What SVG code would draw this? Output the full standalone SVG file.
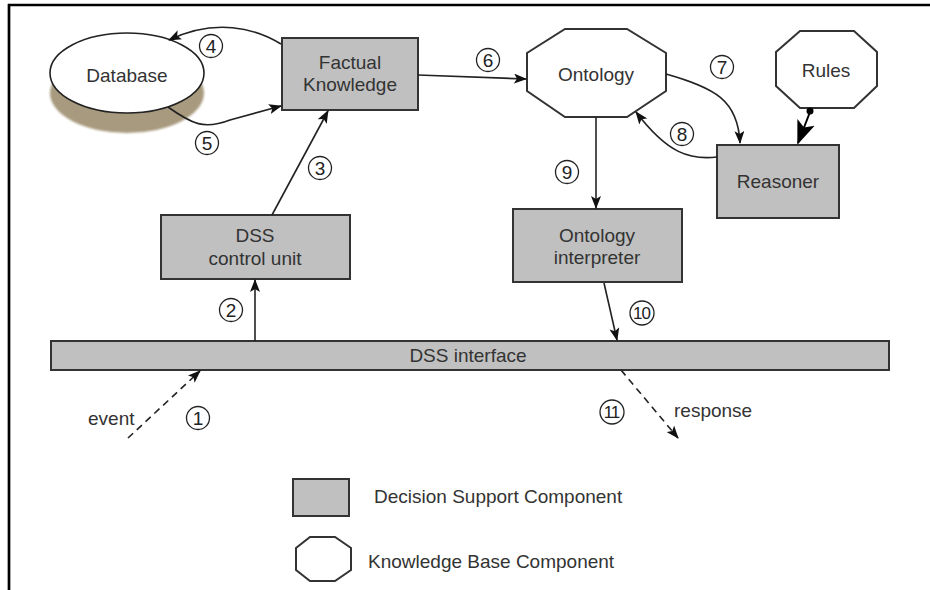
<svg xmlns="http://www.w3.org/2000/svg" width="930" height="590" viewBox="0 0 930 590">
  <defs>
    <marker id="arrow" viewBox="0 0 13 10" refX="12" refY="5" markerWidth="13" markerHeight="10" markerUnits="userSpaceOnUse" orient="auto">
      <path d="M0,0 L13,5 L0,10 L3,5 z" fill="#111"/>
    </marker>
    <marker id="arrowBig" viewBox="0 0 13 10" refX="12" refY="5" markerWidth="24" markerHeight="20" markerUnits="userSpaceOnUse" orient="auto">
      <path d="M0,0 L13,5 L0,10 L3,5 z" fill="#000"/>
    </marker>
    <filter id="soft" x="-10%" y="-20%" width="120%" height="140%">
      <feGaussianBlur stdDeviation="1"/>
    </filter>
  </defs>
  <style>
    .box { fill: #c0c0c0; stroke: #333; stroke-width: 2; }
    .kb { fill: #fff; stroke: #333; stroke-width: 2; }
    .lbl { font-family: "Liberation Sans", Arial, sans-serif; font-size: 19px; fill: #333; text-anchor: middle; }
    .txt { font-family: "Liberation Sans", Arial, sans-serif; font-size: 19px; fill: #333; }
    .step circle { fill: #fff; stroke: #222; stroke-width: 1.3; }
    .step text { font-family: "Liberation Sans", Arial, sans-serif; font-size: 19px; fill: #222; text-anchor: middle; }
    .step text.two { font-size: 17px; letter-spacing: -1px; }
    .link { fill: none; stroke: #222; stroke-width: 1.6; marker-end: url(#arrow); }
    .dash { stroke-dasharray: 7 5; }
  </style>

  <rect width="930" height="590" fill="#fff"/>
  <!-- page frame -->
  <line x1="8" y1="5" x2="930" y2="5" stroke="#000" stroke-width="2.5"/>
  <line x1="9" y1="4" x2="9" y2="590" stroke="#000" stroke-width="2.7"/>

  <!-- nodes -->
  <g id="database">
    <ellipse cx="127" cy="93" rx="77" ry="40" fill="#a89a7e" filter="url(#soft)"/>
    <ellipse cx="127" cy="73" rx="77" ry="40" fill="#fff" stroke="#222" stroke-width="1.6"/>
    <text class="lbl" x="127" y="82">Database</text>
  </g>
  <g id="factual-knowledge">
    <rect class="box" x="282" y="38" width="136" height="72"/>
    <text class="lbl" x="350" y="69">Factual</text>
    <text class="lbl" x="350" y="91">Knowledge</text>
  </g>
  <g id="ontology">
    <polygon class="kb" points="565,29 627,29 666,53 666,91 627,117 565,117 527,91 527,53"/>
    <text class="lbl" x="596" y="81">Ontology</text>
  </g>
  <g id="rules">
    <polygon class="kb" points="800,31 854,31 877,52 877,86 854,108 800,108 776,86 776,52"/>
    <text class="lbl" x="826" y="77">Rules</text>
  </g>
  <g id="reasoner">
    <rect class="box" x="717" y="145" width="122" height="73"/>
    <text class="lbl" x="778" y="188">Reasoner</text>
  </g>
  <g id="ontology-interpreter">
    <rect class="box" x="513" y="209" width="169" height="73"/>
    <text class="lbl" x="597" y="242">Ontology</text>
    <text class="lbl" x="597" y="264">interpreter</text>
  </g>
  <g id="dss-control-unit">
    <rect class="box" x="161" y="215" width="189" height="64"/>
    <text class="lbl" x="255" y="242">DSS</text>
    <text class="lbl" x="255" y="265">control unit</text>
  </g>
  <g id="dss-interface">
    <rect class="box" x="51" y="341" width="838" height="29"/>
    <text class="lbl" x="468" y="362">DSS interface</text>
  </g>

  <!-- connectors -->
  <g id="connectors">
    <path class="link dash" d="M128,438 L200,371"/>
    <path class="link" d="M255,341 L255,280"/>
    <path class="link" d="M272,215 L328,111"/>
    <path class="link" d="M281,44 C255,28 215,18 169,40"/>
    <path class="link" d="M168,107 C192,124 204,130 230,120 L281,106"/>
    <path class="link" d="M418,75 L526,79"/>
    <path class="link" d="M666,74 C715,88 738,100 740,143"/>
    <path class="link" d="M717,157 C690,160 668,154 636,112"/>
    <circle cx="810" cy="111" r="3.5" fill="#000"/>
    <path fill="none" stroke="#000" stroke-width="2" marker-end="url(#arrowBig)" d="M810,112 L798,143"/>
    <path class="link" d="M596,117 L596,208"/>
    <path class="link" d="M604,283 L617,340"/>
    <path class="link dash" d="M621,370 L678,438"/>
  </g>

  <!-- step numbers -->
  <g id="step-labels" class="step">
    <circle cx="198" cy="418" r="11.5"/><text x="198" y="425">1</text>
    <circle cx="231" cy="310" r="11.5"/><text x="231" y="317">2</text>
    <circle cx="320" cy="168" r="11.5"/><text x="320" y="175">3</text>
    <circle cx="211" cy="46" r="11.5"/><text x="211" y="53">4</text>
    <circle cx="207" cy="143" r="11.5"/><text x="207" y="150">5</text>
    <circle cx="488" cy="60" r="11.5"/><text x="488" y="67">6</text>
    <circle cx="722" cy="67" r="11.5"/><text x="722" y="74">7</text>
    <circle cx="682" cy="134" r="11.5"/><text x="682" y="141">8</text>
    <circle cx="567" cy="172" r="11.5"/><text x="567" y="179">9</text>
    <circle cx="642" cy="313" r="12"/><text class="two" x="641.5" y="319">10</text>
    <circle cx="612" cy="412" r="12"/><text class="two" x="611.5" y="418">11</text>
  </g>

  <!-- edge texts -->
  <text class="txt" x="88" y="425">event</text>
  <text class="txt" x="674" y="417">response</text>

  <!-- legend -->
  <g id="legend">
    <rect class="box" x="293" y="479" width="56" height="37"/>
    <text class="txt" x="374" y="503">Decision Support Component</text>
    <polygon class="kb" points="310,537 335,537 351,548 351,570 335,581 310,581 296,570 296,548"/>
    <text class="txt" x="368" y="568">Knowledge Base Component</text>
  </g>
</svg>
